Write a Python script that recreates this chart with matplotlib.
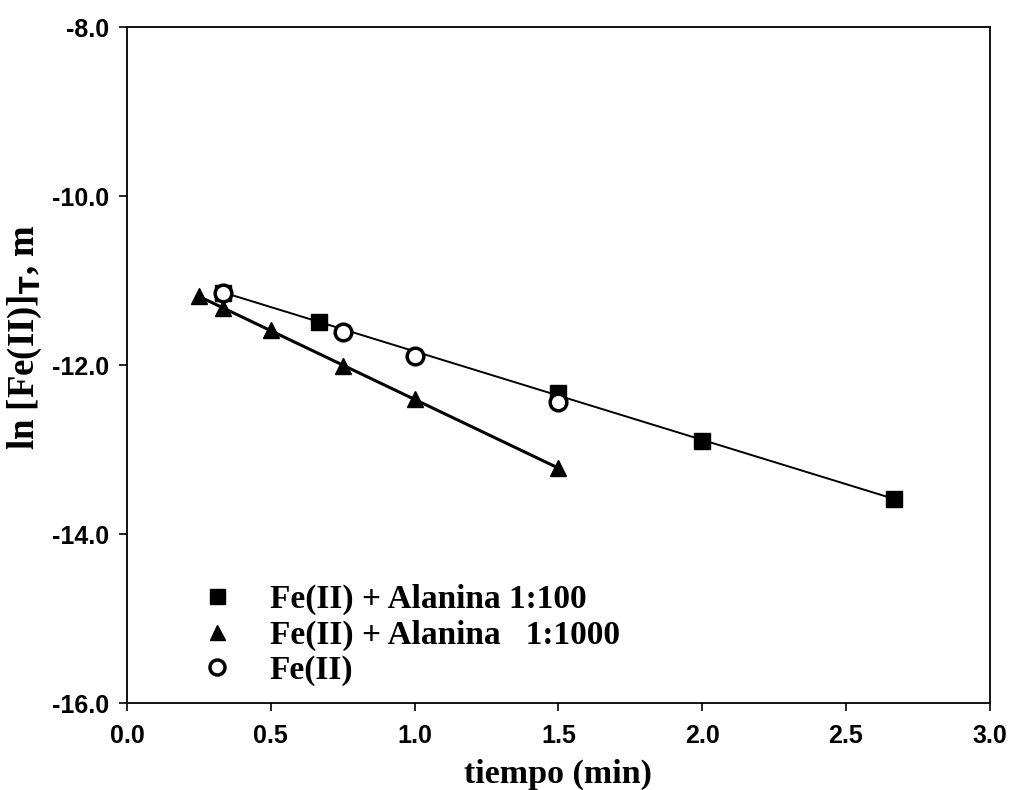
import numpy as np
import matplotlib
matplotlib.use("Agg")
import matplotlib.pyplot as plt

# datos
t_100 = [0.333, 0.667, 1.5, 2.0, 2.667]
ln_100 = [-11.15, -11.49, -12.33, -12.90, -13.59]

t_1000 = [0.25, 0.333, 0.5, 0.75, 1.0, 1.5]
ln_1000 = [-11.18, -11.33, -11.59, -12.01, -12.40, -13.22]

t_fe = [0.333, 0.75, 1.0, 1.5]
ln_fe = [-11.15, -11.61, -11.89, -12.44]

labels = ["Fe(II) + Alanina 1:100", "Fe(II) + Alanina   1:1000", "Fe(II)"]

serif = ["Liberation Serif", "DejaVu Serif"]
sans = ["Liberation Sans", "DejaVu Sans"]

fig = plt.figure(figsize=(10.1, 7.9), dpi=100)
ax = fig.add_axes([0.1257, 0.1101, 0.8543, 0.8557])

# rectas de ajuste
p1 = np.polyfit(t_100, ln_100, 1)
xx1 = np.array([min(t_100), max(t_100)])
ax.plot(xx1, np.polyval(p1, xx1), color="black", lw=1.4, zorder=1)

p2 = np.polyfit(t_1000, ln_1000, 1)
xx2 = np.array([min(t_1000), max(t_1000)])
ax.plot(xx2, np.polyval(p2, xx2), color="black", lw=2.2, zorder=1)

ax.plot(t_100, ln_100, "s", color="black", ms=12, ls="none", label=labels[0], zorder=3)
ax.plot(t_1000, ln_1000, "^", color="black", ms=12, ls="none", label=labels[1], zorder=3)
ax.plot(t_fe, ln_fe, "o", mfc="white", mec="black", mew=2.5, ms=12, ls="none", label=labels[2], zorder=4)

ax.set_xlim(0, 3.0)
ax.set_ylim(-16.0, -8.0)
ax.set_xticks(np.arange(0, 3.01, 0.5))
ax.set_yticks(np.arange(-16, -7.9, 2))
ax.set_xticklabels(["%.1f" % v for v in np.arange(0, 3.01, 0.5)])
ax.set_yticklabels(["%.1f" % v for v in np.arange(-16, -7.9, 2)])
ax.tick_params(direction="out", length=6, width=1.2, labelsize=18)
ax.tick_params(axis="y", pad=6.5)
ax.tick_params(axis="x", pad=9)
for lab in ax.get_xticklabels() + ax.get_yticklabels():
    lab.set_family(sans)
    lab.set_fontweight("bold")
for s in ax.spines.values():
    s.set_linewidth(1.3)

ax.set_xlabel("tiempo (min)", family=serif, fontweight="bold", fontsize=24.5, labelpad=8)
ax.set_ylabel(r"ln [Fe(II)]$_\mathbf{T}$, m", family=serif, fontweight="bold", fontsize=26.5)
ax.yaxis.set_label_coords(-0.096, 0.541)

leg = ax.legend(loc="upper left", bbox_to_anchor=(0.0846, 0.176), frameon=False,
                prop={"family": serif, "weight": "bold", "size": 24},
                handlelength=1.0, handletextpad=1.09, labelspacing=0.12,
                markerscale=0.9, borderaxespad=0, borderpad=0)

fig.savefig("out.png", dpi=100)
